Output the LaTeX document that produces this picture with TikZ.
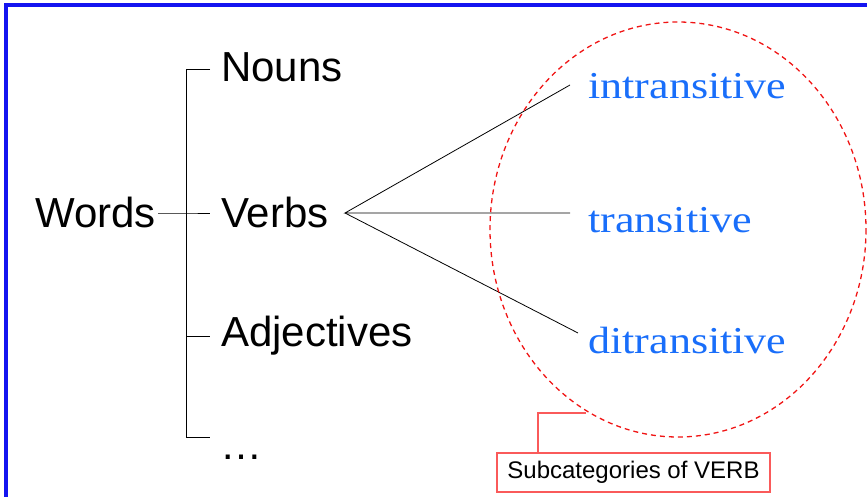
\documentclass[tikz,border=0pt]{standalone}
\usepackage{fontspec}
\setmainfont{Liberation Sans}
\newfontfamily\bluefont[FakeStretch=1.16]{Liberation Serif}
\definecolor{frameblue}{RGB}{20,20,240}
\definecolor{subblue}{RGB}{25,110,250}
\definecolor{ellred}{RGB}{240,20,20}
\definecolor{callred}{RGB}{250,90,90}
\tikzset{
  word/.style={anchor=base west, inner sep=0pt, font=\fontsize{42}{42}\selectfont},
  sub/.style={anchor=base west, inner sep=0pt, text=subblue, font=\bluefont\fontsize{38}{38}\selectfont},
  thin/.style={line width=0.8pt, black},
  callout/.style={draw=callred, line width=1.2pt, inner sep=0pt, minimum width=273pt, minimum height=39pt, font=\fontsize{24}{24}\selectfont}
}
\begin{document}
\begin{tikzpicture}[x=1pt,y=-1pt]
\useasboundingbox (0,0) rectangle (867,497);
\begin{scope}
\clip (0,0) rectangle (867,497);
\draw[frameblue, line width=3.2pt] (6,5) rectangle (880,510);
\end{scope}
% words
\node[word] (words) at (35,227) {Words};
\node[word] (nouns) at (221,82) {Nouns};
\node[word] (verbs) at (221,227) {Verbs};
\node[word] (adj) at (221,346) {Adjectives};
\node[word] (dots) at (220,459) {…};
% bracket
\coordinate (btop) at (186,69);
\coordinate (bbot) at (186,437);
\coordinate (bmid) at (186,213);
\coordinate (badj) at (186,336);
\draw[thin] (210,69) -- (btop) -- (bbot) -- (210,437);
\draw[thin] (158,213) -- (bmid) -- (210,213);
\draw[thin] (badj) -- (210,336);
% subcategories
\node[sub] (intr) at (588,99) {intransitive};
\node[sub] (tran) at (588,233) {transitive};
\node[sub] (ditr) at (588,353) {ditransitive};
\coordinate (vtip) at (345,213);
\coordinate (eintr) at (570,85);
\coordinate (etran) at (570,213);
\coordinate (editr) at (578,333);
\draw[thin] (eintr) -- (vtip) -- (etran);
\draw[thin] (vtip) -- (editr);
% ellipse
\draw[ellred, line width=1.3pt, dash pattern=on 5pt off 4pt] (678,229.5) ellipse [x radius=188, y radius=207.5];
% callout
\node[callout] (call) at (633.5,472.5) {Subcategories of VERB};
\coordinate (callend) at (586,413);
\draw[callred, line width=1.2pt] (call.north -| 538,0) -- (538,413) -- (callend);
\end{tikzpicture}
\end{document}
